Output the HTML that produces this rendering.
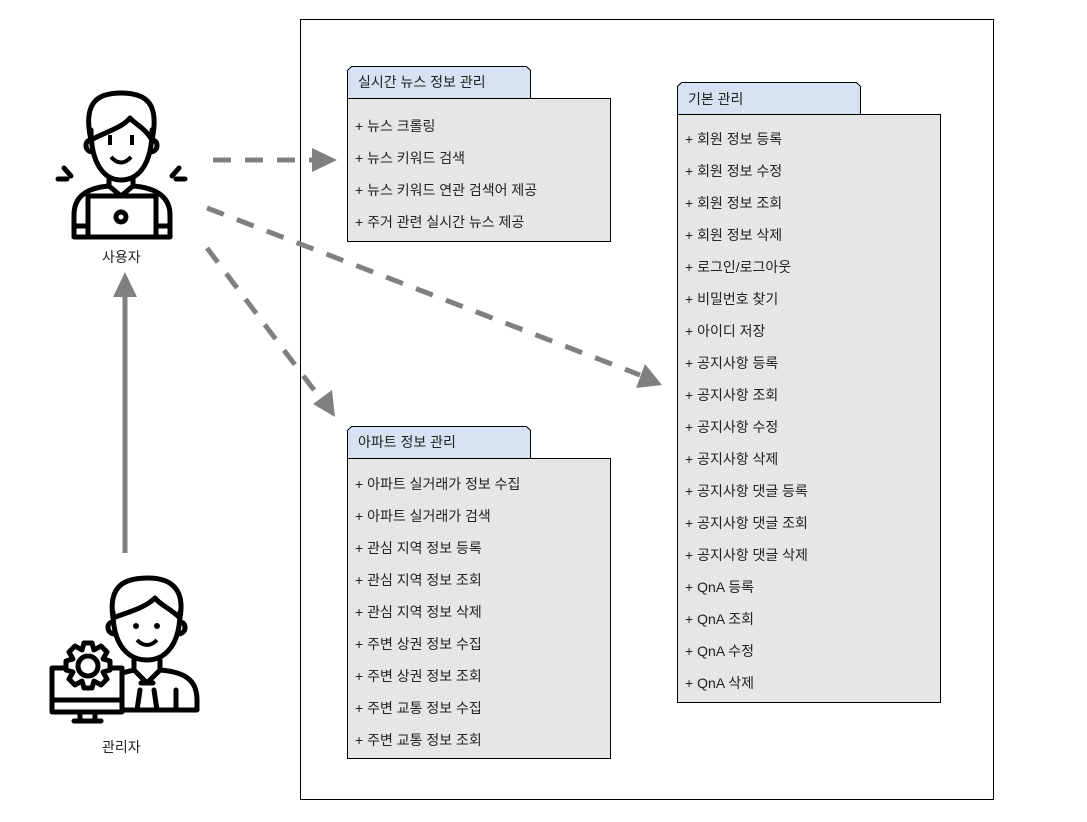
<!DOCTYPE html>
<html><head><meta charset="utf-8"><style>
body{margin:0;background:#fff;width:1087px;height:817px;overflow:hidden}
svg text{font-family:"Liberation Sans","Noto Sans CJK KR",sans-serif;font-size:14px;fill:#222}
</style></head><body>
<svg width="1087" height="817" viewBox="0 0 1087 817" xmlns="http://www.w3.org/2000/svg">
<rect x="300.5" y="19.5" width="693" height="780" fill="#fff" stroke="#000" stroke-width="1"/>

<path d="M347.5 98.5 V70.5 L351.5 66.5 H526.5 L530.5 70.5 V98.5 Z" fill="#d7e1f2" stroke="#000"/>
<rect x="347.5" y="98.5" width="263" height="143" fill="#e6e6e6" stroke="#000"/>
<text x="358" y="87" font-size="15">실시간 뉴스 정보 관리</text>
<text x="355" y="131">+ 뉴스 크롤링</text>
<text x="355" y="163">+ 뉴스 키워드 검색</text>
<text x="355" y="195">+ 뉴스 키워드 연관 검색어 제공</text>
<text x="355" y="227">+ 주거 관련 실시간 뉴스 제공</text>

<path d="M677.5 114.5 V86.5 L681.5 82.5 H856.5 L860.5 86.5 V114.5 Z" fill="#d7e1f2" stroke="#000"/>
<rect x="677.5" y="114.5" width="263" height="588" fill="#e6e6e6" stroke="#000"/>
<text x="688" y="104" font-size="15">기본 관리</text>
<text x="685" y="144">+ 회원 정보 등록</text>
<text x="685" y="176">+ 회원 정보 수정</text>
<text x="685" y="208">+ 회원 정보 조회</text>
<text x="685" y="240">+ 회원 정보 삭제</text>
<text x="685" y="272">+ 로그인/로그아웃</text>
<text x="685" y="304">+ 비밀번호 찾기</text>
<text x="685" y="336">+ 아이디 저장</text>
<text x="685" y="368">+ 공지사항 등록</text>
<text x="685" y="400">+ 공지사항 조회</text>
<text x="685" y="432">+ 공지사항 수정</text>
<text x="685" y="464">+ 공지사항 삭제</text>
<text x="685" y="496">+ 공지사항 댓글 등록</text>
<text x="685" y="528">+ 공지사항 댓글 조회</text>
<text x="685" y="560">+ 공지사항 댓글 삭제</text>
<text x="685" y="592">+ QnA 등록</text>
<text x="685" y="624">+ QnA 조회</text>
<text x="685" y="656">+ QnA 수정</text>
<text x="685" y="688">+ QnA 삭제</text>

<path d="M347.5 458.5 V430.5 L351.5 426.5 H526.5 L530.5 430.5 V458.5 Z" fill="#d7e1f2" stroke="#000"/>
<rect x="347.5" y="458.5" width="263" height="300" fill="#e6e6e6" stroke="#000"/>
<text x="358" y="447" font-size="15">아파트 정보 관리</text>
<text x="355" y="489">+ 아파트 실거래가 정보 수집</text>
<text x="355" y="521">+ 아파트 실거래가 검색</text>
<text x="355" y="553">+ 관심 지역 정보 등록</text>
<text x="355" y="585">+ 관심 지역 정보 조회</text>
<text x="355" y="617">+ 관심 지역 정보 삭제</text>
<text x="355" y="649">+ 주변 상권 정보 수집</text>
<text x="355" y="681">+ 주변 상권 정보 조회</text>
<text x="355" y="713">+ 주변 교통 정보 수집</text>
<text x="355" y="745">+ 주변 교통 정보 조회</text>

<g stroke="#808080" stroke-width="5" stroke-dasharray="18 14" fill="none">
<line x1="213" y1="160" x2="312" y2="160"/>
<line x1="207" y1="208" x2="640" y2="375"/>
<line x1="207" y1="248" x2="320" y2="398"/>
</g>
<g fill="#808080">
<polygon points="337,160 312,148 312,172"/>
<polygon points="662,385 636,388 645,364"/>
<polygon points="335,417 313,404 332,390"/>
<polygon points="125,272 113,297 137,297"/>
</g>
<line x1="125" y1="297" x2="125" y2="553" stroke="#808080" stroke-width="5"/>

<g fill="none" stroke="#000" stroke-width="5" stroke-linejoin="round" stroke-linecap="round">
<path d="M91 140 C82 100 100 93 121 93 C145 93 160 102 152 140 C145 128 135 124 130 118 C122 128 105 132 91 140 Z"/>
<path d="M91 130 C91 165 105 180 121 180 C138 180 152 165 152 130"/>
<path d="M91 140 C84 140 84 152 93 152"/>
<path d="M152 140 C159 140 159 152 150 152"/>
<path d="M109 178 V186 L121 196 L133 186 V178"/>
<path d="M109 186 C85 188 74 198 74 215 V237 H170 V215 C170 198 158 188 133 186"/>
<rect x="88" y="196" width="68" height="41"/>
<circle cx="121" cy="217" r="5"/>
<path d="M74 226 H88 M156 226 H170"/>
<path d="M58 179 L67 179 M64 168 L71 176 M185 179 L176 179 M179 168 L172 176"/>
</g>
<g fill="#000"><rect x="108" y="135" width="4" height="10"/><rect x="130" y="135" width="4" height="10"/></g>
<path d="M111 157 Q121 168 131 157" fill="none" stroke="#000" stroke-width="4"/>
<text x="102" y="262" font-size="15">사용자</text>

<g fill="none" stroke="#000" stroke-width="5" stroke-linejoin="round" stroke-linecap="round">
<path d="M113 618 C108 585 125 578 148 578 C172 578 185 590 180 618 C170 608 160 605 155 598 C145 608 128 612 113 618 Z"/>
<path d="M113 612 C113 645 128 660 147 660 C165 660 180 645 180 612"/>
<path d="M113 622 C106 622 106 634 115 634"/>
<path d="M180 622 C187 622 187 634 178 634"/>
<path d="M134 660 V670 L147 683 L160 670 V660"/>
<path d="M160 670 C185 672 197 680 197 700 V710 H122"/>
<path d="M134 670 L122 673"/>
<path d="M140 690 L137 710 M154 690 L157 710 M141 683 H153"/>
<path d="M176 690 V710"/>
<rect x="52" y="668" width="70" height="44" fill="#fff"/>
<path d="M52 700 H122 M80 712 V720 M95 712 V720 M74 721 H101"/>
<path d="M84 643 H92 L94 650 L101 646 L107 652 L103 659 L110 661 V670 L103 672 L107 679 L101 685 L94 681 L92 688 H84 L82 681 L75 685 L69 679 L73 672 L66 670 V661 L73 659 L69 652 L75 646 L82 650 Z" fill="#fff"/>
<circle cx="88" cy="666" r="10"/>
</g>
<g fill="#000"><circle cx="136" cy="626" r="3"/><circle cx="157" cy="626" r="3"/></g>
<path d="M137 640 Q147 650 157 640" fill="none" stroke="#000" stroke-width="4"/>
<text x="102" y="752" font-size="15">관리자</text>
</svg>
</body></html>
